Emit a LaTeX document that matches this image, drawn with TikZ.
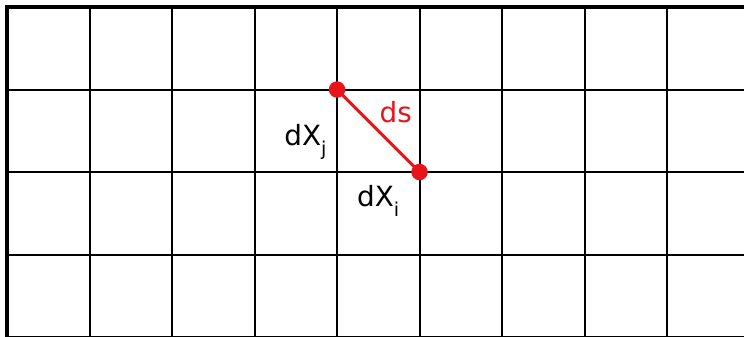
\documentclass[tikz,border=0pt]{standalone}
\usepackage{fontspec}
\setmainfont{DejaVu Sans}
\usepackage{xcolor}
\usepackage{tikz}
\usetikzlibrary{positioning}
\definecolor{segred}{HTML}{E8141C}
\newcommand{\lowsub}[1]{\raisebox{-0.36em}{\fontsize{6.6}{7}\selectfont #1}}

\begin{document}
\begin{tikzpicture}[
        gridline/.style={draw=black,line width=0.7pt},
        border/.style={draw=black,line width=1.7pt,line cap=rect},
        dot/.style={circle,fill=segred,inner sep=0pt,minimum size=0.2cm},
        segment/.style={segred,line width=1pt},
        lbl/.style={inner sep=0pt,font=\fontsize{9.6}{11}\selectfont},
        dslbl/.style={lbl,text=segred}
    ]
        \useasboundingbox (-0.085,0.085) rectangle (8.933,-3.988);
        \draw[gridline] (0,-4) grid (9,0);
        \draw[border] (0,-4.2) -- (0,0) -- (9.2,0);

        \coordinate (pj) at (4,-1);
        \coordinate (pi) at (5,-2);

        \draw[segment] (pj) -- node[dslbl, above right=0.08cm and 0cm] (ds) {ds} (pi);
        \node[dot] (dotj) at (pj) {};
        \node[dot] (doti) at (pi) {};

        % labels of the two end points
        \node[lbl, below left=0.42cm and 0.12cm of pj, anchor=north east] (xj) {dX\lowsub{j}};
        \node[lbl, below left=0.15cm and 0.24cm of pi] (xi) {dX\lowsub{i}};
    \end{tikzpicture}
\end{document}
